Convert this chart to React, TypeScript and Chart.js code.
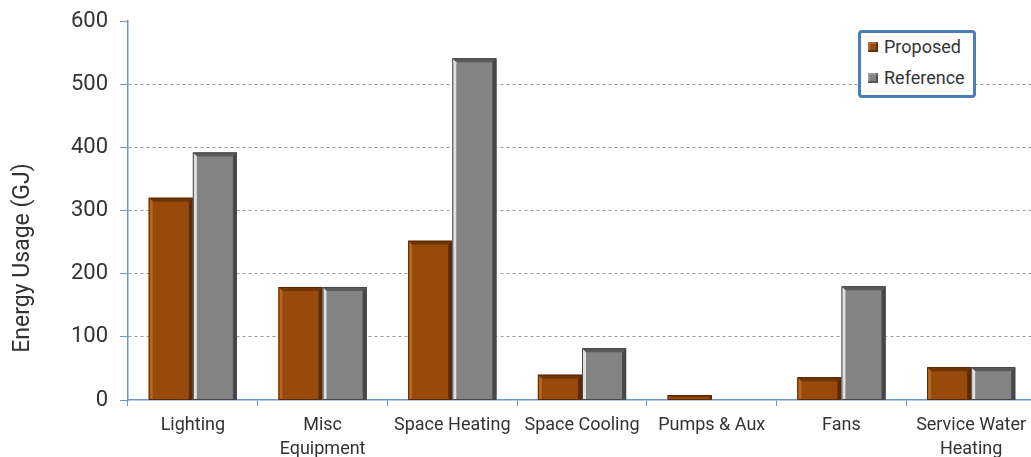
import React, { useEffect, useRef } from "react";
import { Chart, registerables } from "chart.js";

Chart.register(...registerables);

const categories: (string | string[])[] = [
  "Lighting",
  ["Misc", "Equipment"],
  "Space Heating",
  "Space Cooling",
  "Pumps & Aux",
  "Fans",
  ["Service Water", "Heating"],
];
const proposed = [320, 179, 252, 40, 8, 36, 52];
const reference = [392, 179, 541, 82, 0, 180, 52];
const yTicks = [0, 100, 200, 300, 400, 500, 600];
const seriesNames = ["Proposed", "Reference"];
const yTitle = "Energy Usage (GJ)";

const BROWN = "#974a0b";
const GRAY = "#838383";
const AXIS_BLUE = "#6a95d0";
const TEXT = "#333333";
const FONT = "Roboto, 'Noto Sans', sans-serif";

const bevelStyles = [
  { light: "#b8651f", dark: "#5a2a04", top: "#6e3506" },
  { light: "#e0e0e0", dark: "#474747", top: "#5a5a5a" },
];

const bevelPlugin = {
  id: "bevel",
  afterDatasetsDraw(chart: any) {
    const ctx = chart.ctx;
    chart.data.datasets.forEach((_ds: any, di: number) => {
      const meta = chart.getDatasetMeta(di);
      const st = bevelStyles[di];
      meta.data.forEach((el: any) => {
        const p = el.getProps(["x", "y", "base", "width"], true);
        const l = p.x - p.width / 2;
        const r = p.x + p.width / 2;
        const t = Math.min(p.y, p.base);
        const b = Math.max(p.y, p.base);
        if (b - t < 1) return;
        const bw = Math.min(4, (b - t) / 2);
        ctx.save();
        ctx.fillStyle = st.dark;
        ctx.beginPath();
        ctx.moveTo(r, t);
        ctx.lineTo(r, b);
        ctx.lineTo(r - bw, b);
        ctx.lineTo(r - bw, t + bw);
        ctx.closePath();
        ctx.fill();
        ctx.fillStyle = st.top;
        ctx.beginPath();
        ctx.moveTo(l, t);
        ctx.lineTo(r, t);
        ctx.lineTo(r - bw, t + bw);
        ctx.lineTo(l + bw, t + bw);
        ctx.closePath();
        ctx.fill();
        ctx.fillStyle = st.light;
        ctx.beginPath();
        ctx.moveTo(l, t);
        ctx.lineTo(l + bw, t + bw);
        ctx.lineTo(l + bw, b);
        ctx.lineTo(l, b);
        ctx.closePath();
        ctx.fill();
        ctx.strokeStyle = st.dark;
        ctx.lineWidth = 1;
        ctx.strokeRect(l + 0.5, t + 0.5, r - l - 1, b - t - 0.5);
        ctx.restore();
      });
    });
  },
};

const titlePlugin = {
  id: "ytitle",
  afterDraw(chart: any) {
    const ctx = chart.ctx;
    ctx.save();
    ctx.translate(23, 258);
    ctx.rotate(-Math.PI / 2);
    ctx.font = `23px ${FONT}`;
    ctx.fillStyle = TEXT;
    ctx.textAlign = "center";
    ctx.textBaseline = "middle";
    ctx.fillText(yTitle, 0, 0);
    ctx.restore();
  },
};

export default function App() {
  const ref = useRef<HTMLCanvasElement>(null);
  useEffect(() => {
    if (!ref.current) return;
    const chart = new Chart(ref.current, {
      type: "bar",
      data: {
        labels: categories,
        datasets: [
          {
            label: seriesNames[0],
            data: proposed,
            backgroundColor: BROWN,
            borderWidth: 0,
            barPercentage: 1,
            categoryPercentage: 0.68,
          },
          {
            label: seriesNames[1],
            data: reference,
            backgroundColor: GRAY,
            borderWidth: 0,
            barPercentage: 1,
            categoryPercentage: 0.68,
          },
        ],
      },
      options: {
        responsive: false,
        animation: false,
        layout: { padding: { top: 21, left: 0, right: 0, bottom: 0 } },
        plugins: {
          legend: { display: false },
          tooltip: { enabled: false },
        },
        scales: {
          x: {
            grid: {
              display: true,
              drawOnChartArea: false,
              drawTicks: true,
              tickLength: 6,
              tickColor: AXIS_BLUE,
              offset: true,
            },
            border: { color: AXIS_BLUE, width: 1.5 },
            ticks: {
              color: TEXT,
              font: { family: FONT, size: 18, lineHeight: 1.3 },
              padding: 8,
              maxRotation: 0,
              autoSkip: false,
            },
            afterFit: (s: any) => {
              s.height = 57;
              s.paddingLeft = 0;
              s.paddingRight = 0;
            },
          },
          y: {
            min: yTicks[0],
            max: yTicks[yTicks.length - 1],
            afterBuildTicks: (s: any) => {
              s.ticks = yTicks.map((v) => ({ value: v }));
            },
            grid: {
              color: (c: any) =>
                c.tick && (c.tick.value === 0 || c.tick.value === 600)
                  ? "rgba(0,0,0,0)"
                  : "#9a9a9a",
              tickColor: AXIS_BLUE,
              tickLength: 8,
              lineWidth: 1,
            },
            border: { color: AXIS_BLUE, width: 1.5, dash: [3, 3] },
            ticks: {
              color: TEXT,
              font: { family: FONT, size: 22 },
              padding: 12,
            },
            afterFit: (s: any) => {
              s.width = 128;
              s.paddingTop = 0;
              s.paddingBottom = 0;
            },
          },
        },
      },
      plugins: [bevelPlugin, titlePlugin],
    });
    return () => chart.destroy();
  }, []);

  const legendItem = (name: string, color: string) => (
    <div style={{ display: "flex", alignItems: "center", height: 31 }}>
      <div
        style={{
          width: 10,
          height: 10,
          background: color,
          boxShadow: "inset -2px -2px 0 rgba(0,0,0,0.35), inset 2px 2px 0 rgba(255,255,255,0.2)",
          marginRight: 6,
        }}
      />
      <span style={{ fontFamily: FONT, fontSize: 18, color: TEXT }}>{name}</span>
    </div>
  );

  return (
    <div
      style={{
        position: "fixed",
        left: 0,
        top: 0,
        width: 1031,
        height: 457,
        overflow: "hidden",
        background: "#fff",
      }}
    >
      <canvas ref={ref} width={1036} height={457} style={{ display: "block" }} />
      <div
        style={{
          position: "absolute",
          left: 858,
          top: 30,
          width: 118,
          height: 68,
          boxSizing: "border-box",
          border: "3px solid #4a7ebb",
          borderRadius: 4,
          padding: "0 0 0 7px",
          background: "#fff",
        }}
      >
        <div style={{ marginTop: -2 }}>
          {legendItem(seriesNames[0], BROWN)}
          {legendItem(seriesNames[1], GRAY)}
        </div>
      </div>
    </div>
  );
}
